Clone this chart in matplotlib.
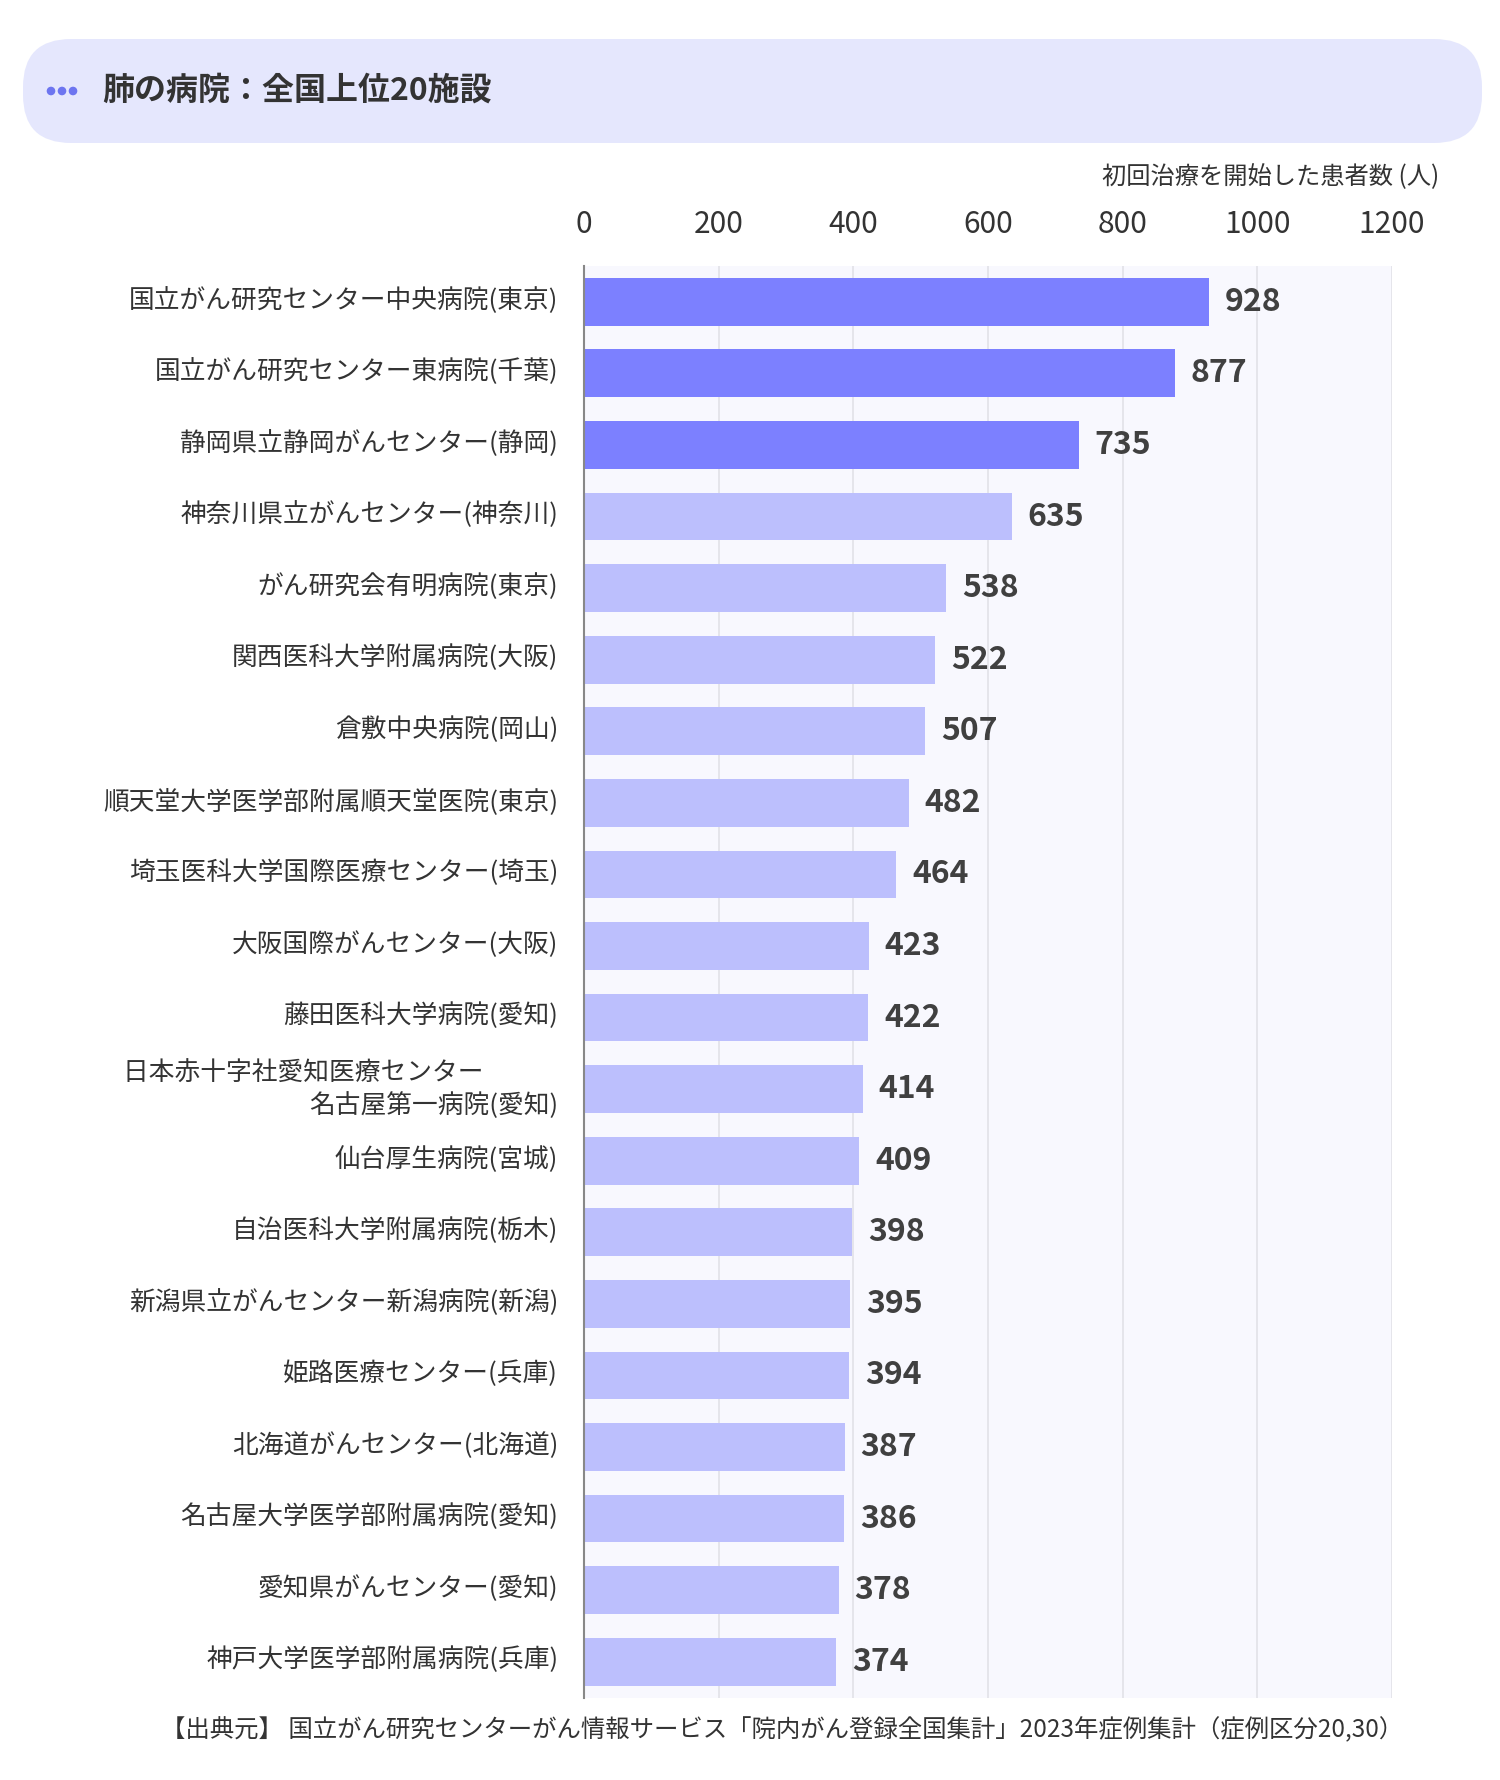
import matplotlib.pyplot as plt
from matplotlib.patches import FancyBboxPatch, Circle
from matplotlib.transforms import ScaledTranslation

plt.rcParams['font.family'] = ['Noto Sans CJK JP', 'DejaVu Sans']

# data
hospitals = [
    "国立がん研究センター中央病院(東京)",
    "国立がん研究センター東病院(千葉)",
    "静岡県立静岡がんセンター(静岡)",
    "神奈川県立がんセンター(神奈川)",
    "がん研究会有明病院(東京)",
    "関西医科大学附属病院(大阪)",
    "倉敷中央病院(岡山)",
    "順天堂大学医学部附属順天堂医院(東京)",
    "埼玉医科大学国際医療センター(埼玉)",
    "大阪国際がんセンター(大阪)",
    "藤田医科大学病院(愛知)",
    "日本赤十字社愛知医療センター\u3000\u3000    \n名古屋第一病院(愛知)",
    "仙台厚生病院(宮城)",
    "自治医科大学附属病院(栃木)",
    "新潟県立がんセンター新潟病院(新潟)",
    "姫路医療センター(兵庫)",
    "北海道がんセンター(北海道)",
    "名古屋大学医学部附属病院(愛知)",
    "愛知県がんセンター(愛知)",
    "神戸大学医学部附属病院(兵庫)",
]
patients = [928, 877, 735, 635, 538, 522, 507, 482, 464, 423,
            422, 414, 409, 398, 395, 394, 387, 386, 378, 374]
x_ticks = [0, 200, 400, 600, 800, 1000, 1200]

title = "肺の病院：全国上位20施設"
x_label = "初回治療を開始した患者数 (人)"
source = "【出典元】 国立がん研究センターがん情報サービス「院内がん登録全国集計」2023年症例集計（症例区分20,30）"

dark = "#7c80ff"
light = "#bcbffd"
colors = [dark if i < 3 else light for i in range(len(patients))]

fig = plt.figure(figsize=(15, 17.8), dpi=100)

# background layer in pixel units for the header and footer
bg = fig.add_axes([0, 0, 1, 1])
bg.set_xlim(0, 1500)
bg.set_ylim(1780, 0)
bg.axis('off')
bg.add_patch(FancyBboxPatch((23, 39), 1459, 104,
                            boxstyle="round,pad=0,rounding_size=48",
                            fc="#e5e7fd", ec="none"))
for cx in [51, 62, 73]:
    bg.add_patch(Circle((cx, 91), 3.6, color="#6d75f0"))
bg.text(102, 91, title, fontsize=23, fontweight='bold', color='#333333',
        ha='left', va='center')
bg.text(1439, 177, x_label, fontsize=17.5, color='#333333',
        ha='right', va='center')
bg.text(1403, 1730, source, fontsize=17.6, color='#333333',
        ha='right', va='center')

# main bar chart
ax = fig.add_axes([584 / 1500, 1 - 1697.5 / 1780, 808 / 1500, (1697.5 - 266) / 1780])
y = list(range(len(hospitals)))
ax.barh(y, patients, height=0.667, color=colors, zorder=2)
ax.set_xlim(0, 1200)
ax.set_ylim(len(hospitals) - 0.5, -0.5)
ax.set_facecolor('#f8f8fe')

ax.set_xticks(x_ticks)
ax.xaxis.tick_top()
ax.tick_params(axis='x', length=0, pad=19, labelsize=21.5, labelcolor='#333333')
ax.set_yticks(y)
ax.set_yticklabels(hospitals, linespacing=1.22)
ax.tick_params(axis='y', length=0, pad=18.5, labelsize=18.5, labelcolor='#333333')
shift = ScaledTranslation(0, 4.5 / 100, fig.dpi_scale_trans)
for lab in ax.get_yticklabels():
    lab.set_transform(lab.get_transform() + shift)

ax.grid(axis='x', color='#e2e2e8', linewidth=1.2)
ax.set_axisbelow(True)
for side in ['top', 'right', 'bottom']:
    ax.spines[side].set_visible(False)
ax.spines['left'].set_color('#888888')
ax.spines['left'].set_linewidth(1.5)

for i, v in enumerate(patients):
    ax.annotate(str(v), (v, i), xytext=(11.5, 0), textcoords='offset points',
                ha='left', va='center', fontsize=23, fontweight='bold',
                color='#404040')

fig.savefig('out.png', dpi=100)
